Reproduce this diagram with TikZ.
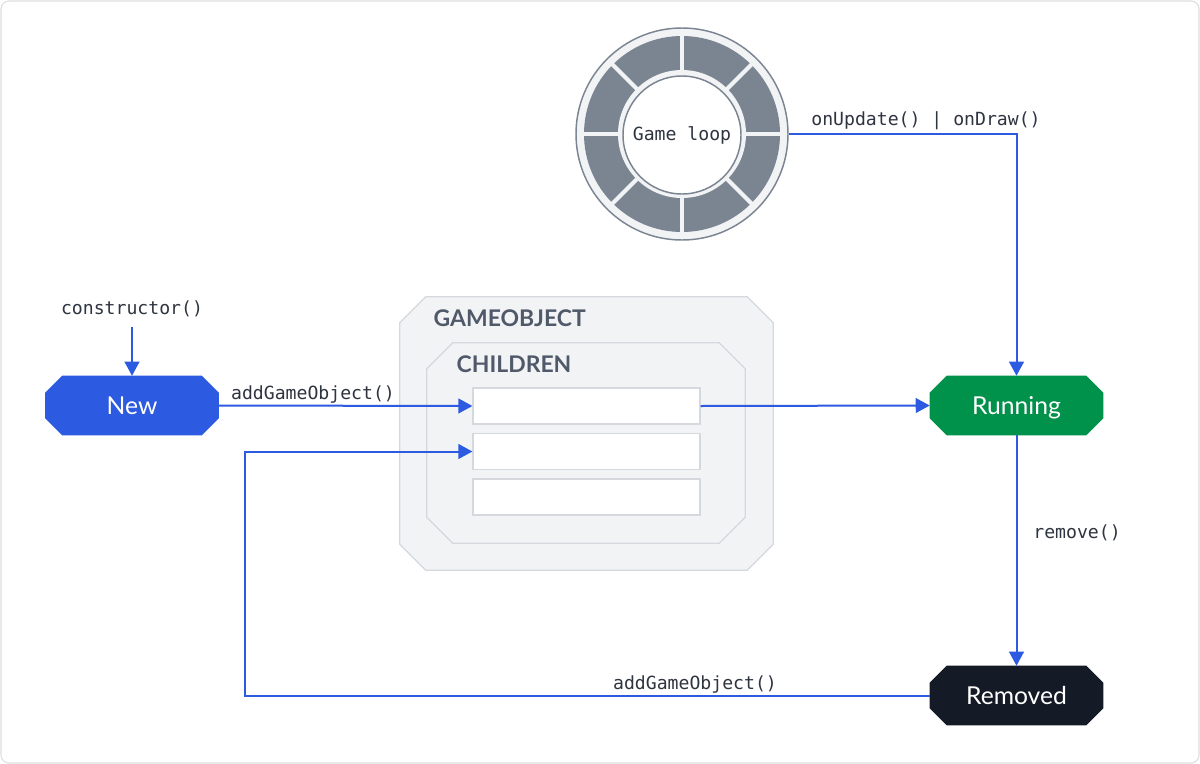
\documentclass[tikz,border=0pt]{standalone}
\usepackage{fontspec}
\setmainfont{Lato}
\setmonofont{DejaVu Sans Mono}
\usetikzlibrary{arrows.meta}
\definecolor{cblue}{HTML}{2C5AE0}
\definecolor{cgreen}{HTML}{00914A}
\definecolor{cdark}{HTML}{141A26}
\definecolor{bordergray}{HTML}{DDDEE0}
\definecolor{boxfill}{HTML}{F2F3F5}
\definecolor{boxline}{HTML}{D5D8DD}
\definecolor{ringgray}{HTML}{7B8592}
\definecolor{headtxt}{HTML}{4F5969}
\definecolor{lbltxt}{HTML}{2E3440}
\newcommand\octpath[3]{%
  \path[#3] ([xshift=#2]#1.north west) -- ([xshift=-#2]#1.north east) -- ([yshift=-#2]#1.north east)
   -- ([yshift=#2]#1.south east) -- ([xshift=-#2]#1.south east) -- ([xshift=#2]#1.south west)
   -- ([yshift=#2]#1.south west) -- ([yshift=-#2]#1.north west) -- cycle;}
\tikzset{
  statebox/.style={rectangle, minimum width=129.75pt, minimum height=44.25pt, inner sep=0pt},
  statetxt/.style={text=white, font=\fontsize{18.5}{22}\selectfont, inner sep=0pt, text depth=0pt},
  container/.style={rectangle, inner sep=0pt},
  confill/.style={draw=boxline, fill=boxfill, line width=0.9pt},
  slot/.style={rectangle, draw=boxline, fill=white, line width=0.9pt, minimum width=170.25pt, minimum height=27pt, inner sep=0pt},
  heading/.style={anchor=west, text=headtxt, font=\bfseries\fontsize{17.2}{20}\selectfont},
  lbl/.style={text=lbltxt, font=\ttfamily\fontsize{13.6}{15}\selectfont, inner sep=1pt},
  conn/.style={draw=cblue, line width=1.5pt, -{Triangle[length=10.5pt,width=11pt]}},
}
\begin{document}
\begin{tikzpicture}[x=0.75pt,y=-0.75pt]
\useasboundingbox (0,0) rectangle (1200,764);
\fill[white] (0,0) rectangle (1200,764);
\draw[bordergray, line width=0.8pt, rounded corners=6pt] (1,1) rectangle (1199,763);

% game loop
\node[circle, minimum size=159pt, inner sep=0pt, draw=ringgray, fill=boxfill, line width=1.1pt] (loop) at (682,134) {};
\fill[ringgray] (682,134) circle[radius=73.5pt];
\fill[boxfill] (682,134) circle[radius=48pt];
\foreach \a in {0,45,...,315} \draw[boxfill, line width=3pt] (682,134) -- ++(\a:76pt);
\node[circle, minimum size=88.5pt, inner sep=0pt, draw=ringgray, fill=white, line width=1.1pt, lbl] (loopin) at (682,135) {Game loop};

% containers
\node[container, minimum width=279.75pt, minimum height=204.75pt] (go) at (586.5,433.5) {};
\octpath{go}{19.5pt}{confill}
\node[heading] (goh) at (429,318) {GAMEOBJECT};
\node[container, minimum width=238.5pt, minimum height=150pt] (ch) at (586,443) {};
\octpath{ch}{19.5pt}{confill}
\node[heading] (chh) at (452,364) {CHILDREN};
\node[slot] (s1) at (586.5,406) {};
\node[slot] (s2) at (586.5,451.5) {};
\node[slot] (s3) at (586.5,497) {};

% states
\node[statebox] (new) at (132,405.5) {};
\octpath{new}{12.75pt}{fill=cblue}
\node[statetxt] (newt) at (new.center) {New};
\node[statebox] (run) at (1016.5,405.5) {};
\octpath{run}{12.75pt}{fill=cgreen}
\node[statetxt] (runt) at (run.center) {Running};
\node[statebox] (rem) at (1016.5,695.5) {};
\octpath{rem}{12.75pt}{fill=cdark}
\node[statetxt] (remt) at (rem.center) {Removed};

% labels
\node[lbl] (lctor) at (132,309) {constructor()};
\node[lbl] (ladd1) at (313,394) {addGameObject()};
\node[lbl] (lupd) at (926,121) {onUpdate() | onDraw()};
\node[lbl] (lrem) at (1077,533) {remove()};
\node[lbl] (ladd2) at (695,684) {addGameObject()};

% connectors
\coordinate (bend) at (245,451.5);
\draw[conn, shorten <=6pt] (lctor.south) -- (new.north);
\draw[conn] (new.east) -- (s1.west);
\draw[conn] (s1.east) -- (run.west);
\draw[conn] (loop.east) -| (run.north);
\draw[conn] (run.south) -- (rem.north);
\draw[conn] (rem.west) -| (bend) -- (s2.west);
\end{tikzpicture}
\end{document}
